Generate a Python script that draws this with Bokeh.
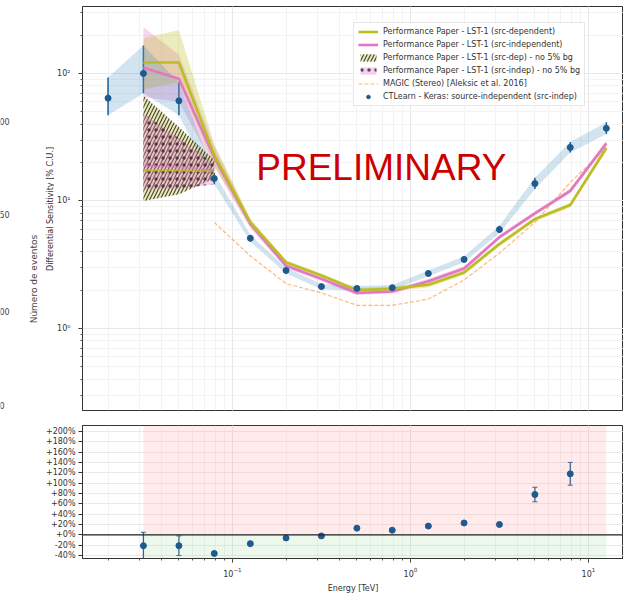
import math
from bokeh.plotting import figure
from bokeh.models import (Range1d, Legend, LegendItem, Label, Whisker, TeeHead,
                          ColumnDataSource, FixedTicker, Span)
from bokeh.layouts import column, row
from bokeh.embed import file_html
from bokeh.resources import INLINE

# ---------------- data ----------------
energy = [0.02, 0.0316, 0.05, 0.079, 0.126, 0.2, 0.316, 0.5, 0.79, 1.26, 2.0, 3.16, 5.0, 7.9, 12.6]
ctlearn = [64, 100, 61, 15.0, 5.1, 2.85, 2.13, 2.06, 2.09, 2.70, 3.48, 5.97, 13.7, 26.3, 37.1]
ctlearn_lo = [47, 70, 47, 13.5, 4.8, 2.70, 2.03, 1.97, 2.00, 2.57, 3.30, 5.60, 12.4, 24.0, 33.5]
ctlearn_hi = [93, 166, 85, 16.6, 5.4, 3.00, 2.23, 2.15, 2.19, 2.85, 3.68, 6.40, 15.2, 29.0, 41.5]

energy_lst = [0.0316, 0.05, 0.079, 0.126, 0.2, 0.316, 0.5, 0.79, 1.26, 2.0, 3.16, 5.0, 7.9, 12.6]
src_dep = [122, 122, 23, 6.8, 3.30, 2.60, 2.00, 2.05, 2.20, 2.75, 4.6, 7.2, 9.3, 26.0]
src_dep_lo = [75, 85, 19, 6.3, 3.15, 2.50, 1.92, 1.97, 2.10, 2.63, 4.4, 6.9, 8.9, 24.5]
src_dep_hi = [190, 218, 28, 7.3, 3.45, 2.70, 2.08, 2.13, 2.30, 2.87, 4.8, 7.5, 9.7, 27.5]
src_indep = [111, 91, 22, 6.6, 3.10, 2.45, 1.90, 1.95, 2.35, 2.95, 5.2, 8.0, 12.0, 28.3]
src_indep_lo = [65, 60, 18.5, 6.1, 2.97, 2.35, 1.83, 1.88, 2.25, 2.83, 5.0, 7.7, 11.5, 27.0]
src_indep_hi = [230, 140, 27, 7.1, 3.23, 2.55, 1.97, 2.02, 2.45, 3.07, 5.4, 8.3, 12.5, 29.6]

energy_nobg = [0.0316, 0.05, 0.079]
src_dep_nobg = [17.3, 17.3, 17.0]
src_dep_nobg_lo = [10.0, 11.3, 15.0]
src_dep_nobg_hi = [67, 38, 21]
src_indep_nobg = [19.0, 18.5, 17.5]
src_indep_nobg_lo = [12.2, 12.5, 13.5]
src_indep_nobg_hi = [48.6, 31, 19.5]

energy_magic = [0.079, 0.126, 0.2, 0.316, 0.5, 0.79, 1.26, 2.0, 3.16, 5.0, 7.9, 12.6]
magic = [6.8, 3.7, 2.25, 1.90, 1.52, 1.52, 1.70, 2.40, 3.9, 6.8, 14.0, 26.0]

energy_ratio = [0.0316, 0.05, 0.079, 0.126, 0.2, 0.316, 0.5, 0.79, 1.26, 2.0, 3.16, 5.0, 7.9]
ratio = [-21, -21, -36, -17, -6, -2, 13, 9, 17, 23, 20, 78, 118]
ratio_err = [26, 19, 3, 3, 2, 2, 2, 2, 2, 3, 3, 14, 22]

ratio_ticks = [-40, -20, 0, 20, 40, 60, 80, 100, 120, 140, 160, 180, 200]
ratio_tick_labels = ["-40%", "-20%", "+0%", "+20%", "+40%", "+60%", "+80%", "+100%",
                     "+120%", "+140%", "+160%", "+180%", "+200%"]

sens_ticks = [1, 10, 100]
sens_tick_labels = ["10⁰", "10¹", "10²"]

# clipped tick labels of the neighbouring histogram at the left edge
left_tick_labels = ["00", "50", "00", "0"]

# ---------------- styles ----------------
FONT = "DejaVu Sans"
YEL = "#bcbd22"
PINK = "#e377c2"
BLUE = "#1f77b4"
DBLUE = "#1f5a8e"
ORANGE = "#ff7f0e"

X_RANGE = (0.01437, 15.73)
FRAME_LEFT = 82
STRIP_TOP_W = 54
STRIP_BOT_W = 40
TOP_H = 415
BOT_H = 180


def style(p):
    p.outline_line_color = "#333333"
    p.outline_line_width = 1
    for ax in p.axis:
        ax.axis_line_color = "#333333"
        ax.major_tick_line_color = "#333333"
        ax.minor_tick_line_color = "#555555"
        ax.major_tick_in = 0
        ax.minor_tick_in = 0
        ax.major_tick_out = 4
        ax.minor_tick_out = 2
        ax.major_label_text_font = FONT
        ax.major_label_text_font_size = "8px"
        ax.major_label_text_color = "#333333"
        ax.axis_label_text_font = FONT
        ax.axis_label_text_font_size = "8px"
        ax.axis_label_text_font_style = "normal"
        ax.axis_label_text_color = "#333333"
    for g in (p.xgrid, p.ygrid):
        g.grid_line_color = "#e4e4e4"
        g.grid_line_width = 0.8
        g.minor_grid_line_color = "#f0f0f0"
        g.minor_grid_line_width = 0.8


def make_strip(w, h):
    s = figure(width=w, height=h, x_range=Range1d(0, w), y_range=Range1d(0, h),
               x_axis_type=None, y_axis_type=None, output_backend="svg",
               toolbar_location=None, min_border=0)
    s.outline_line_color = None
    s.grid.visible = False
    return s


# ---------------- left strip of the top row ----------------
strip_top = make_strip(STRIP_TOP_W, TOP_H)
for lbl, yy in zip(left_tick_labels, [297, 201, 102, 5]):
    strip_top.add_layout(Label(x=-1, y=yy, text=lbl, text_font=FONT, text_font_size="8px",
                               text_color="#444444", text_align="left", text_baseline="middle"))
strip_top.add_layout(Label(x=33, y=135, text="Número de eventos", angle=math.pi / 2,
                           text_font=FONT, text_font_size="9px", text_color="#444444",
                           text_align="center", text_baseline="middle"))
strip_top.add_layout(Label(x=50, y=207, text="Differential Sensitivity [% C.U.]",
                           angle=math.pi / 2, text_font=FONT, text_font_size="8px",
                           text_color="#333333", text_align="center", text_baseline="middle"))

strip_bot = make_strip(STRIP_BOT_W, BOT_H)

# ---------------- top panel ----------------
top = figure(width=623 - STRIP_TOP_W, height=TOP_H, x_axis_type="log", y_axis_type="log",
             x_range=Range1d(*X_RANGE), y_range=Range1d(0.2274, 335),
             output_backend="svg", toolbar_location=None,
             min_border_left=FRAME_LEFT - STRIP_TOP_W, min_border_right=0,
             min_border_top=6, min_border_bottom=5)
style(top)
top.yaxis.major_label_standoff = 8
top.yaxis.ticker.num_minor_ticks = 10
top.yaxis.major_label_overrides = {t: l for t, l in zip(sens_ticks, sens_tick_labels)}
top.xaxis.ticker.num_minor_ticks = 10
top.xaxis.visible = False

# bands
top.varea(x=energy_lst, y1=src_indep_lo, y2=src_indep_hi, fill_color=PINK, fill_alpha=0.3)
top.varea(x=energy_lst, y1=src_dep_lo, y2=src_dep_hi, fill_color=YEL, fill_alpha=0.3)
top.varea(x=energy, y1=ctlearn_lo, y2=ctlearn_hi, fill_color=BLUE, fill_alpha=0.2)

# hatched no-5%-bg bands
r_dep_nobg = top.varea(x=energy_nobg, y1=src_dep_nobg_lo, y2=src_dep_nobg_hi,
                       fill_color=YEL, fill_alpha=0.3, hatch_pattern="/",
                       hatch_color="#222211", hatch_alpha=0.8, hatch_scale=7, hatch_weight=1.2)
r_indep_nobg = top.varea(x=energy_nobg, y1=src_indep_nobg_lo, y2=src_indep_nobg_hi,
                         fill_color=PINK, fill_alpha=0.35, hatch_pattern=".",
                         hatch_color="#3a1f36", hatch_alpha=0.8, hatch_scale=7, hatch_weight=2)
top.line(energy_nobg, src_dep_nobg, line_color=YEL, line_width=2, line_alpha=0.8)
top.line(energy_nobg, src_indep_nobg, line_color=PINK, line_width=2, line_alpha=0.6)

# lines
r_magic = top.line(energy_magic, magic, line_color=ORANGE, line_alpha=0.55,
                   line_width=1.2, line_dash="4 2")
r_indep = top.line(energy_lst, src_indep, line_color=PINK, line_width=2.6)
r_dep = top.line(energy_lst, src_dep, line_color=YEL, line_width=2.6)

# CTLearn points
src_ct = ColumnDataSource(dict(x=energy, y=ctlearn, lo=ctlearn_lo, hi=ctlearn_hi))
top.add_layout(Whisker(source=src_ct, base="x", lower="lo", upper="hi",
                       line_color=DBLUE, line_width=1.5,
                       lower_head=None, upper_head=None))
r_ct = top.scatter("x", "y", source=src_ct, size=6, fill_color=DBLUE, line_color=DBLUE)

legend = Legend(items=[
    LegendItem(label="Performance Paper - LST-1 (src-dependent)", renderers=[r_dep]),
    LegendItem(label="Performance Paper - LST-1 (src-independent)", renderers=[r_indep]),
    LegendItem(label="Performance Paper - LST-1 (src-dep) - no 5% bg", renderers=[r_dep_nobg]),
    LegendItem(label="Performance Paper - LST-1 (src-indep) - no 5% bg", renderers=[r_indep_nobg]),
    LegendItem(label="MAGIC (Stereo) [Aleksic et al. 2016]", renderers=[r_magic]),
    LegendItem(label="CTLearn - Keras: source-independent (src-indep)", renderers=[r_ct]),
], location=(271, 304))
legend.label_text_font = FONT
legend.label_text_font_size = "8px"
legend.label_text_color = "#333333"
legend.glyph_height = 9
legend.glyph_width = 20
legend.label_height = 9
legend.spacing = 4
legend.padding = 4
legend.margin = 0
legend.label_standoff = 5
legend.border_line_color = "#d0d0d0"
legend.background_fill_alpha = 0.85
top.add_layout(legend)

top.add_layout(Label(x=0.136, y=18.3, text="PRELIMINARY", text_color="#cc0000",
                     text_font="Liberation Sans", text_font_size="37px",
                     text_align="left", text_baseline="alphabetic"))

# ---------------- bottom panel ----------------
bot = figure(width=623 - STRIP_BOT_W, height=BOT_H, x_axis_type="log",
             x_range=Range1d(*X_RANGE), y_range=Range1d(-45.7, 211.4),
             output_backend="svg", toolbar_location=None,
             min_border_left=FRAME_LEFT - STRIP_BOT_W, min_border_right=0,
             min_border_top=10, min_border_bottom=35)
style(bot)
bot.xaxis.axis_label = "Energy [TeV]"
bot.xaxis.ticker.num_minor_ticks = 10
bot.xaxis.axis_label_standoff = 4
bot.xaxis.major_label_standoff = 4
bot.yaxis.ticker = FixedTicker(ticks=ratio_ticks)
bot.yaxis.major_label_overrides = {t: l for t, l in zip(ratio_ticks, ratio_tick_labels)}
bot.yaxis.major_label_standoff = 3
bot.ygrid.ticker = FixedTicker(ticks=ratio_ticks)

bot.quad(left=energy_lst[0], right=energy_lst[-1], bottom=0, top=bot.y_range.end,
         fill_color="#ff9999", fill_alpha=0.2, line_color=None)
bot.quad(left=energy_lst[0], right=energy_lst[-1], bottom=bot.y_range.start, top=0,
         fill_color="#99dd99", fill_alpha=0.2, line_color=None)
bot.add_layout(Span(location=0, dimension="width", line_color="#222222", line_width=1.4))

rlo = [r - e for r, e in zip(ratio, ratio_err)]
rhi = [r + e for r, e in zip(ratio, ratio_err)]
src_r = ColumnDataSource(dict(x=energy_ratio, y=ratio, lo=rlo, hi=rhi))
bot.add_layout(Whisker(source=src_r, base="x", lower="lo", upper="hi",
                       line_color=DBLUE, line_width=1.3,
                       lower_head=TeeHead(size=5, line_color=DBLUE),
                       upper_head=TeeHead(size=5, line_color=DBLUE)))
bot.scatter("x", "y", source=src_r, size=6, fill_color=DBLUE, line_color=DBLUE)

layout = column(row(strip_top, top, spacing=0), row(strip_bot, bot, spacing=0), spacing=0)
open("out.html", "w").write(file_html(layout, INLINE))
